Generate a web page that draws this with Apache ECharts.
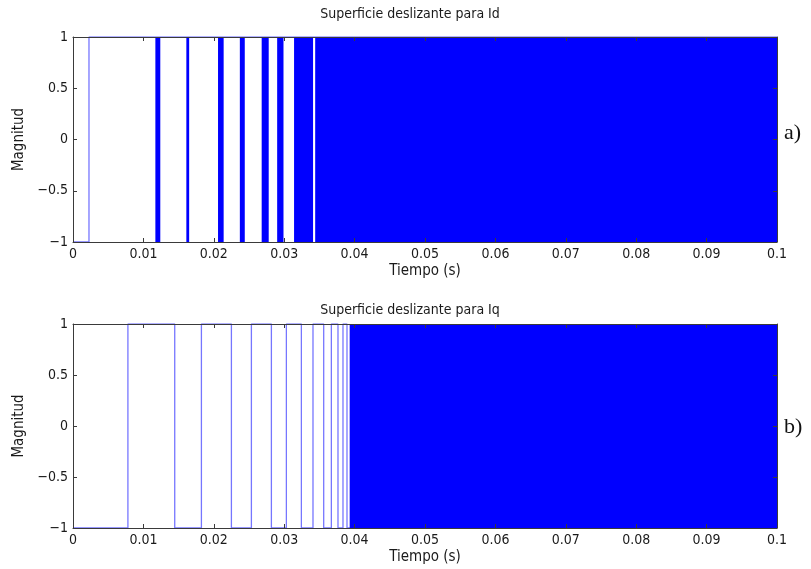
<!DOCTYPE html>
<html>
<head>
<meta charset="utf-8">
<script src="https://cdn.jsdelivr.net/npm/echarts@6/dist/echarts.min.js"></script>
<style>
  html, body { margin: 0; padding: 0; background: #ffffff; }
  #chart { width: 811px; height: 569px; }
</style>
</head>
<body>
<div id="chart"></div>
<script>
// Text
const panelTitles = ['Superficie deslizante para Id', 'Superficie deslizante para Iq'];
const panelTags = ['a)', 'b)'];
const xAxisTitle = 'Tiempo (s)';
const yAxisTitle = 'Magnitud';
const xTickLabels = ['0', '0.01', '0.02', '0.03', '0.04', '0.05', '0.06', '0.07', '0.08', '0.09', '0.1'];
const yTickLabels = ['\u22121', '\u22120.5', '0', '0.5', '1'];

// Sliding surface sign for Id: isolated switching instants (s)
const idSwitches = [0.00227];
// Id intervals where switching is too fast to resolve (chattering), [start, end] in s
const idChatter = [
  [0.0117, 0.0124],
  [0.0161, 0.0165],
  [0.0206, 0.0214],
  [0.0237, 0.0244],
  [0.0268, 0.0278],
  [0.0290, 0.0299],
  [0.0314, 0.0341],
  [0.0344, 0.1]
];

// Sliding surface sign for Iq: isolated switching instants (s)
const iqSwitches = [
  0.0078, 0.01445, 0.01824, 0.0225, 0.02534, 0.02818, 0.03031,
  0.03244, 0.03409, 0.03561, 0.0367, 0.03764, 0.03835, 0.03892
];
// Iq chattering interval
const iqChatter = [[0.0393, 0.1]];

const initialLevel = -1;
const tEnd = 0.1;

// Sign signal as a stepped polyline through the switching instants
function signalPoints(switches) {
  let level = initialLevel;
  const pts = [[0, level]];
  switches.forEach(function (t) {
    pts.push([t, level]);
    level = -level;
    pts.push([t, level]);
  });
  pts.push([tEnd, level]);
  return pts;
}

const FONT = '"DejaVu Sans Condensed", "Liberation Sans Narrow", "Liberation Sans", sans-serif';
const BLUE = '#0000ff';
const FRAME = '#3a3a3a';
const TEXT = '#1a1a1a';

const grids = [
  { left: 73, top: 37, width: 704, height: 205 },
  { left: 73, top: 324, width: 704, height: 204 }
];

function xAxisFor(i, onTop) {
  return {
    type: 'value', gridIndex: i, min: 0, max: 0.1, interval: 0.01,
    position: onTop ? 'top' : 'bottom', z: 5,
    name: onTop ? '' : xAxisTitle,
    nameLocation: 'middle', nameGap: 22,
    nameTextStyle: { fontFamily: FONT, fontSize: 15, color: TEXT },
    axisLine: { show: true, onZero: false, lineStyle: { color: FRAME, width: 1 } },
    axisTick: { show: true, inside: true, length: 4, lineStyle: { color: FRAME } },
    axisLabel: {
      show: !onTop, margin: 5, fontFamily: FONT, fontSize: 14, color: TEXT,
      formatter: function (v) { return xTickLabels[Math.round(v / 0.01)]; }
    },
    splitLine: { show: false }
  };
}

function yAxisFor(i, onRight) {
  return {
    type: 'value', gridIndex: i, min: -1, max: 1, interval: 0.5,
    position: onRight ? 'right' : 'left', z: 5,
    name: onRight ? '' : yAxisTitle,
    nameLocation: 'middle', nameGap: 35,
    nameTextStyle: { fontFamily: FONT, fontSize: 15, color: TEXT },
    axisLine: { show: true, onZero: false, lineStyle: { color: FRAME, width: 1 } },
    axisTick: { show: true, inside: true, length: 4, lineStyle: { color: FRAME } },
    axisLabel: {
      show: !onRight, margin: 5, fontFamily: FONT, fontSize: 14, color: TEXT,
      formatter: function (v) { return yTickLabels[Math.round((v + 1) / 0.5)]; }
    },
    splitLine: { show: false }
  };
}

function chatterSeries(i, bands) {
  return {
    type: 'custom', xAxisIndex: i * 2, yAxisIndex: i * 2, z: 3,
    data: bands,
    renderItem: function (params, api) {
      const p0 = api.coord([api.value(0), 1]);
      const p1 = api.coord([api.value(1), -1]);
      return {
        type: 'rect',
        shape: { x: p0[0], y: p0[1], width: Math.max(p1[0] - p0[0], 1), height: p1[1] - p0[1] },
        style: { fill: BLUE }
      };
    }
  };
}

function switchSeries(i, switches) {
  return {
    type: 'line', xAxisIndex: i * 2, yAxisIndex: i * 2, z: 2,
    data: signalPoints(switches),
    showSymbol: false, symbol: 'none', animation: false,
    lineStyle: { color: 'rgba(60,60,255,0.7)', width: 1.3 }
  };
}

const chart = echarts.init(document.getElementById('chart'), null, { renderer: 'canvas' });

chart.setOption({
  backgroundColor: '#ffffff',
  animation: false,
  grid: grids,
  xAxis: [xAxisFor(0, false), xAxisFor(0, true), xAxisFor(1, false), xAxisFor(1, true)],
  yAxis: [yAxisFor(0, false), yAxisFor(0, true), yAxisFor(1, false), yAxisFor(1, true)],
  series: [
    switchSeries(0, idSwitches),
    chatterSeries(0, idChatter),
    switchSeries(1, iqSwitches),
    chatterSeries(1, iqChatter)
  ],
  graphic: [
    { type: 'text', x: 410, y: 14, z: 10, style: { text: panelTitles[0], font: '14px ' + FONT, fill: TEXT, align: 'center', verticalAlign: 'middle' } },
    { type: 'text', x: 410, y: 310, z: 10, style: { text: panelTitles[1], font: '14px ' + FONT, fill: TEXT, align: 'center', verticalAlign: 'middle' } },
    { type: 'text', x: 784, y: 133, z: 10, style: { text: panelTags[0], font: '22px "Liberation Serif", "DejaVu Serif", serif', fill: '#111', verticalAlign: 'middle' } },
    { type: 'text', x: 784, y: 427, z: 10, style: { text: panelTags[1], font: '22px "Liberation Serif", "DejaVu Serif", serif', fill: '#111', verticalAlign: 'middle' } }
  ]
});
</script>
</body>
</html>
